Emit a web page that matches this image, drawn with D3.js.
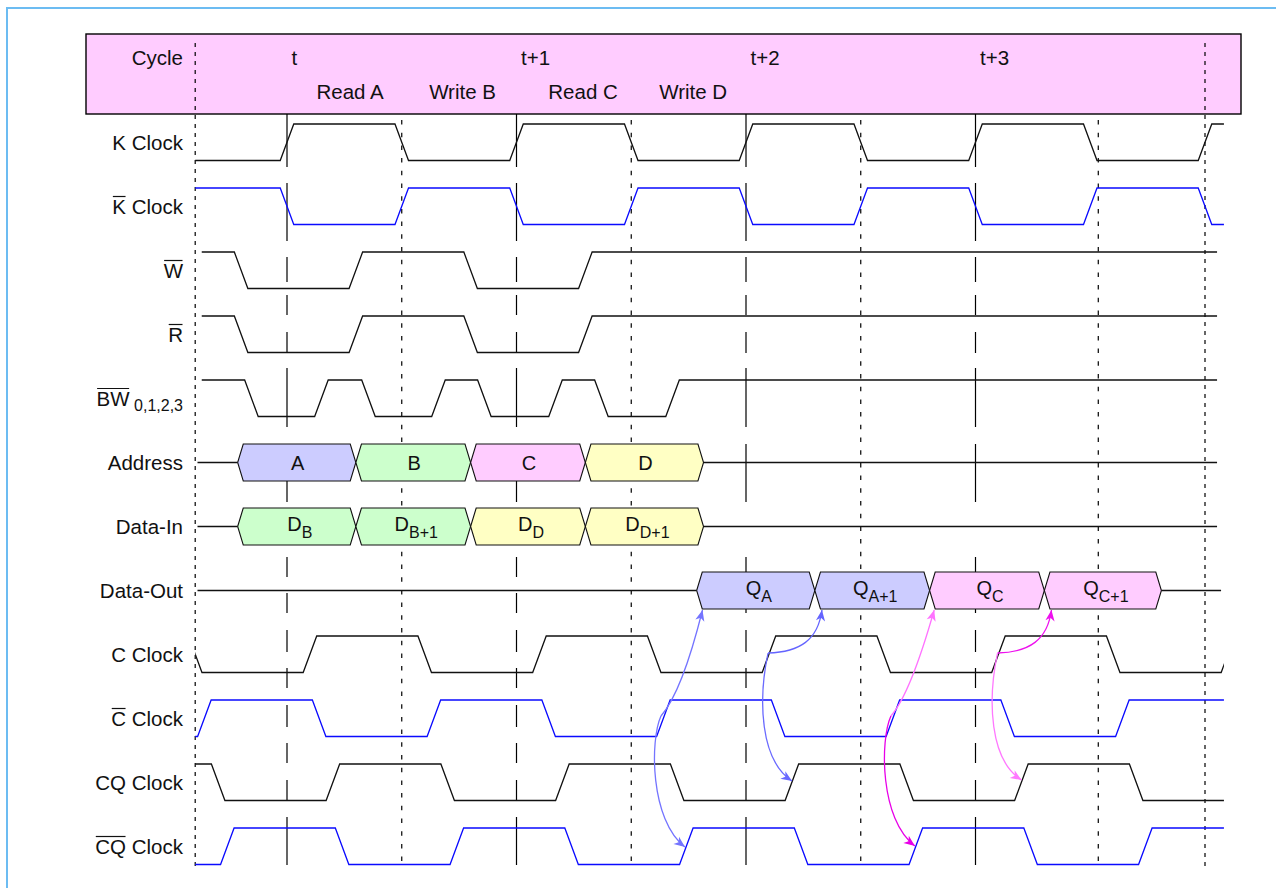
<!DOCTYPE html>
<html><head><meta charset="utf-8">
<script src="https://cdn.jsdelivr.net/npm/d3@7"></script>
<style>
body{margin:0;background:#fff}
text{font-family:"Liberation Sans",Arial,Helvetica,sans-serif;fill:#111}
</style>
</head><body>
<svg id="c" width="1276" height="888"></svg>
<script>
// ---------------- data ----------------
const cycleLabels = ["t", "t+1", "t+2", "t+3"];
const cycleTimes  = [0, 2, 4, 6];
const opLabels = ["Read A", "Write B", "Read C", "Write D"];
const opTimes  = [0.55, 1.53, 2.58, 3.54];

const signalLabels = ["K Clock", "K Clock", "W", "R", "BW", "Address", "Data-In", "Data-Out",
                      "C Clock", "C Clock", "CQ Clock", "CQ Clock"];
const overlineChars = [0, 1, 1, 1, 2, 0, 0, 0, 0, 1, 0, 2];
const labelSubs = ["", "", "", "", " 0,1,2,3", "", "", "", "", "", "", ""];

// waveform signals: row, start level (1 = high), edge times, time span, colour
const kEdges   = [0, 1, 2, 3, 4, 5, 6, 7, 8];
const wEdges   = [-0.4, 0.6, 1.6, 2.6];
const rEdges   = [-0.4, 0.6, 1.6, 2.6];
const bwEdges  = [-0.31, 0.30, 0.71, 1.32, 1.72, 2.34, 2.74, 3.36];
const cEdges   = [-0.8, 0.2, 1.2, 2.2, 3.2, 4.2, 5.2, 6.2, 7.2, 8.2];
const cbEdges  = [-0.72, 0.28, 1.28, 2.28, 3.28, 4.28, 5.28, 6.28, 7.28];
const cqEdges  = [-0.6, 0.4, 1.4, 2.4, 3.4, 4.4, 5.4, 6.4, 7.4];
const cqbEdges = [-0.52, 0.48, 1.48, 2.48, 3.48, 4.48, 5.48, 6.48, 7.48];

const waves = [
  {row: 0,  start: 0, edges: kEdges,   t0: -0.8,  t1: 8.165, color: "#111"},
  {row: 1,  start: 1, edges: kEdges,   t0: -0.8,  t1: 8.165, color: "#0a0aff"},
  {row: 2,  start: 1, edges: wEdges,   t0: -0.743, t1: 8.105, color: "#111"},
  {row: 3,  start: 1, edges: rEdges,   t0: -0.743, t1: 8.105, color: "#111"},
  {row: 4,  start: 1, edges: bwEdges,  t0: -0.743, t1: 8.105, color: "#111"},
  {row: 8,  start: 1, edges: cEdges,   t0: -0.8,  t1: 8.165, color: "#111"},
  {row: 9,  start: 0, edges: cbEdges,  t0: -0.8,  t1: 8.165, color: "#0a0aff"},
  {row: 10, start: 1, edges: cqEdges,  t0: -0.8,  t1: 8.165, color: "#111"},
  {row: 11, start: 0, edges: cqbEdges, t0: -0.8,  t1: 8.165, color: "#0a0aff"}
];

// buses
const addrBounds = [-0.43, 0.6, 1.6, 2.6, 3.63];
const addrText = [["A", ""], ["B", ""], ["C", ""], ["D", ""]];
const addrFill = ["#ccccff", "#ccffcc", "#ffccff", "#ffffc4"];
const dinBounds = [-0.43, 0.6, 1.6, 2.6, 3.63];
const dinText = [["D", "B"], ["D", "B+1"], ["D", "D"], ["D", "D+1"]];
const dinFill = ["#ccffcc", "#ccffcc", "#ffffc4", "#ffffc4"];
const doutBounds = [3.57, 4.6, 5.6, 6.6, 7.62];
const doutText = [["Q", "A"], ["Q", "A+1"], ["Q", "C"], ["Q", "C+1"]];
const doutFill = ["#ccccff", "#ccccff", "#ffccff", "#ffccff"];
const buses = [
  {row: 5, bounds: addrBounds, text: addrText, fill: addrFill, t0: -0.78, t1: 8.105},
  {row: 6, bounds: dinBounds,  text: dinText,  fill: dinFill,  t0: -0.78, t1: 8.105},
  {row: 7, bounds: doutBounds, text: doutText, fill: doutFill, t0: -0.78, t1: 8.14}
];

// reference lines (time)
const edgeLineTimes  = [0, 2, 4, 6];          // long dashes
const halfLineTimes  = [1, 3, 5, 7.07];       // short dashes
const frameLineTimes = [-0.8, 8];             // short dashes reaching into header

// causality arrows: points as [time, rowPosition] (start, ctrl1, ctrl2, end)
const arrows = [
  {pts: [[3.259, 9.25], [3.381, 9.0],  [3.512, 8.375], [3.621, 7.594]],  color: "#7474ff"},
  {pts: [[3.259, 9.25], [3.163, 9.625],[3.163, 10.875],[3.468, 11.297]], color: "#7474ff"},
  {pts: [[4.192, 8.266],[4.471, 8.25], [4.627, 8.0625],[4.662, 7.594]],  color: "#6464ff"},
  {pts: [[4.192, 8.266],[4.105, 9.0],  [4.122, 9.9375],[4.401, 10.266]], color: "#6a6aff"},
  {pts: [[5.263, 9.25], [5.385, 9.0],  [5.516, 8.375], [5.640, 7.594]],  color: "#ff72ff"},
  {pts: [[5.263, 9.25], [5.167, 9.625],[5.167, 10.875],[5.472, 11.28]],  color: "#e800e8"},
  {pts: [[6.192, 8.266],[6.471, 8.25], [6.627, 8.0625],[6.662, 7.594]],  color: "#ee10ee"},
  {pts: [[6.192, 8.266],[6.105, 9.0],  [6.122, 9.9375],[6.401, 10.25]],  color: "#ff78ff"}
];

// ---------------- drawing ----------------
const svg = d3.select("#c");
const x = d3.scaleLinear().domain([0, 8]).range([287, 1205]);
const y = d3.scaleLinear().domain([0, 11]).range([124, 828]);
const LEVEL = 36.5, HALF = 0.059, BUS_H = 37, NOTCH = 5.6;

// outer frame
svg.append("rect").attr("x", 7).attr("y", 8).attr("width", 1320).attr("height", 920)
  .attr("fill", "none").attr("stroke", "#6cbcf2").attr("stroke-width", 2);

// header band
svg.append("rect").attr("x", 86).attr("y", 34).attr("width", 1155).attr("height", 80)
  .attr("fill", "#ffccff").attr("stroke", "#000").attr("stroke-width", 1.4);

const FS = 20.5;
svg.append("text").attr("x", 183).attr("y", 65).attr("text-anchor", "end")
  .style("font-size", FS + "px").text("Cycle");
svg.selectAll("text.cyc").data(cycleLabels).enter().append("text").attr("class", "cyc")
  .attr("x", (d, i) => x(cycleTimes[i]) + 4.5).attr("y", 65)
  .style("font-size", FS + "px").text(d => d);
svg.selectAll("text.op").data(opLabels).enter().append("text").attr("class", "op")
  .attr("x", (d, i) => x(opTimes[i])).attr("y", 99).attr("text-anchor", "middle")
  .style("font-size", FS + "px").text(d => d);

// reference lines
const vl = svg.append("g").attr("stroke", "#000").attr("stroke-width", 1.2);
vl.selectAll("line.f").data(frameLineTimes).enter().append("line")
  .attr("x1", d => x(d)).attr("x2", d => x(d)).attr("y1", 43).attr("y2", 868)
  .attr("stroke-dasharray", "4,5");
vl.selectAll("line.h").data(halfLineTimes).enter().append("line")
  .attr("x1", d => x(d)).attr("x2", d => x(d)).attr("y1", 120).attr("y2", 868)
  .attr("stroke-dasharray", "4.5,8.2");
vl.selectAll("line.e").data(edgeLineTimes).enter().append("line")
  .attr("x1", d => x(d)).attr("x2", d => x(d)).attr("y1", 114).attr("y2", 866)
  .attr("stroke-dasharray", "53,16,58,16,25,13,20,17,21,15,59,17,58,55,20,16,20,17,22,16,20,17,22,16,20,17,20,17,48");

// waveforms
const defs = svg.append("defs");
waves.forEach((w, i) => {
  const top = y(w.row);
  defs.append("clipPath").attr("id", "cw" + i).append("rect")
    .attr("x", x(w.t0)).attr("width", x(w.t1) - x(w.t0))
    .attr("y", top - 5).attr("height", LEVEL + 10);
  let lvl = w.start;
  const pts = [[w.t0 - 1, lvl]];
  w.edges.forEach(e => { pts.push([e - HALF, lvl]); lvl = 1 - lvl; pts.push([e + HALF, lvl]); });
  pts.push([w.t1 + 1, lvl]);
  const line = d3.line().x(p => x(p[0])).y(p => top + (p[1] ? 0 : LEVEL));
  svg.append("path").attr("d", line(pts)).attr("fill", "none")
    .attr("stroke", w.color).attr("stroke-width", 1.3)
    .attr("clip-path", "url(#cw" + i + ")");
});

// buses
buses.forEach(b => {
  const top = y(b.row), mid = top + BUS_H / 2, bot = top + BUS_H;
  const n = b.bounds.length;
  svg.append("path").attr("d", d3.line()([[x(b.t0), mid], [x(b.bounds[0]), mid]]))
    .attr("stroke", "#111").attr("stroke-width", 1.3);
  svg.append("path").attr("d", d3.line()([[x(b.bounds[n - 1]), mid], [x(b.t1), mid]]))
    .attr("stroke", "#111").attr("stroke-width", 1.3);
  for (let i = 0; i < n - 1; i++) {
    const a = x(b.bounds[i]), c = x(b.bounds[i + 1]);
    const poly = [[a, mid], [a + NOTCH, top], [c - NOTCH, top], [c, mid], [c - NOTCH, bot], [a + NOTCH, bot]];
    svg.append("path").attr("d", d3.line()(poly) + "Z")
      .attr("fill", b.fill[i]).attr("stroke", "#111").attr("stroke-width", 1.1);
    const [main, sub] = b.text[i];
    const t = svg.append("text").attr("x", (a + c) / 2 + (sub ? 3 : 1)).attr("y", sub ? mid + 4 : mid + 7)
      .attr("text-anchor", "middle").style("font-size", "20px");
    t.append("tspan").text(main);
    if (sub) t.append("tspan").attr("dy", 7).style("font-size", "16px").text(sub);
  }
});

// signal labels
signalLabels.forEach((lab, r) => {
  const base = y(r) + 26;
  const t = svg.append("text").attr("x", 183).attr("y", base).attr("text-anchor", "end")
    .style("font-size", FS + "px");
  t.append("tspan").text(lab);
  if (labelSubs[r]) t.append("tspan").attr("dy", 5).style("font-size", "16px").text(labelSubs[r]);
  const k = overlineChars[r];
  if (k > 0) {
    const node = t.node();
    const x0 = node.getStartPositionOfChar(0).x;
    const x1 = node.getEndPositionOfChar(k - 1).x;
    svg.append("line").attr("x1", x0 + 0.5).attr("x2", x1 - 0.5)
      .attr("y1", base - 17.5).attr("y2", base - 17.5)
      .attr("stroke", "#111").attr("stroke-width", 1.2);
  }
});

// arrows
const ay = rp => 124 + 64 * rp;
arrows.forEach(a => {
  const P = a.pts.map(p => [x(p[0]), ay(p[1])]);
  const path = d3.path();
  path.moveTo(P[0][0], P[0][1]);
  path.bezierCurveTo(P[1][0], P[1][1], P[2][0], P[2][1], P[3][0], P[3][1]);
  svg.append("path").attr("d", path.toString()).attr("fill", "none")
    .attr("stroke", a.color).attr("stroke-width", 1.3);
  const tip = P[3];
  let dx = tip[0] - P[2][0], dy = tip[1] - P[2][1];
  const len = Math.hypot(dx, dy); dx /= len; dy /= len;
  const L = 11, W = 4.6;
  const bx = tip[0] - dx * L, by = tip[1] - dy * L;
  const nx = -dy, ny = dx;
  const head = [[tip[0], tip[1]], [bx + nx * W, by + ny * W],
                [tip[0] - dx * L * 0.72, tip[1] - dy * L * 0.72], [bx - nx * W, by - ny * W]];
  svg.append("path").attr("d", d3.line()(head) + "Z").attr("fill", a.color).attr("stroke", "none");
});
</script>
</body></html>
